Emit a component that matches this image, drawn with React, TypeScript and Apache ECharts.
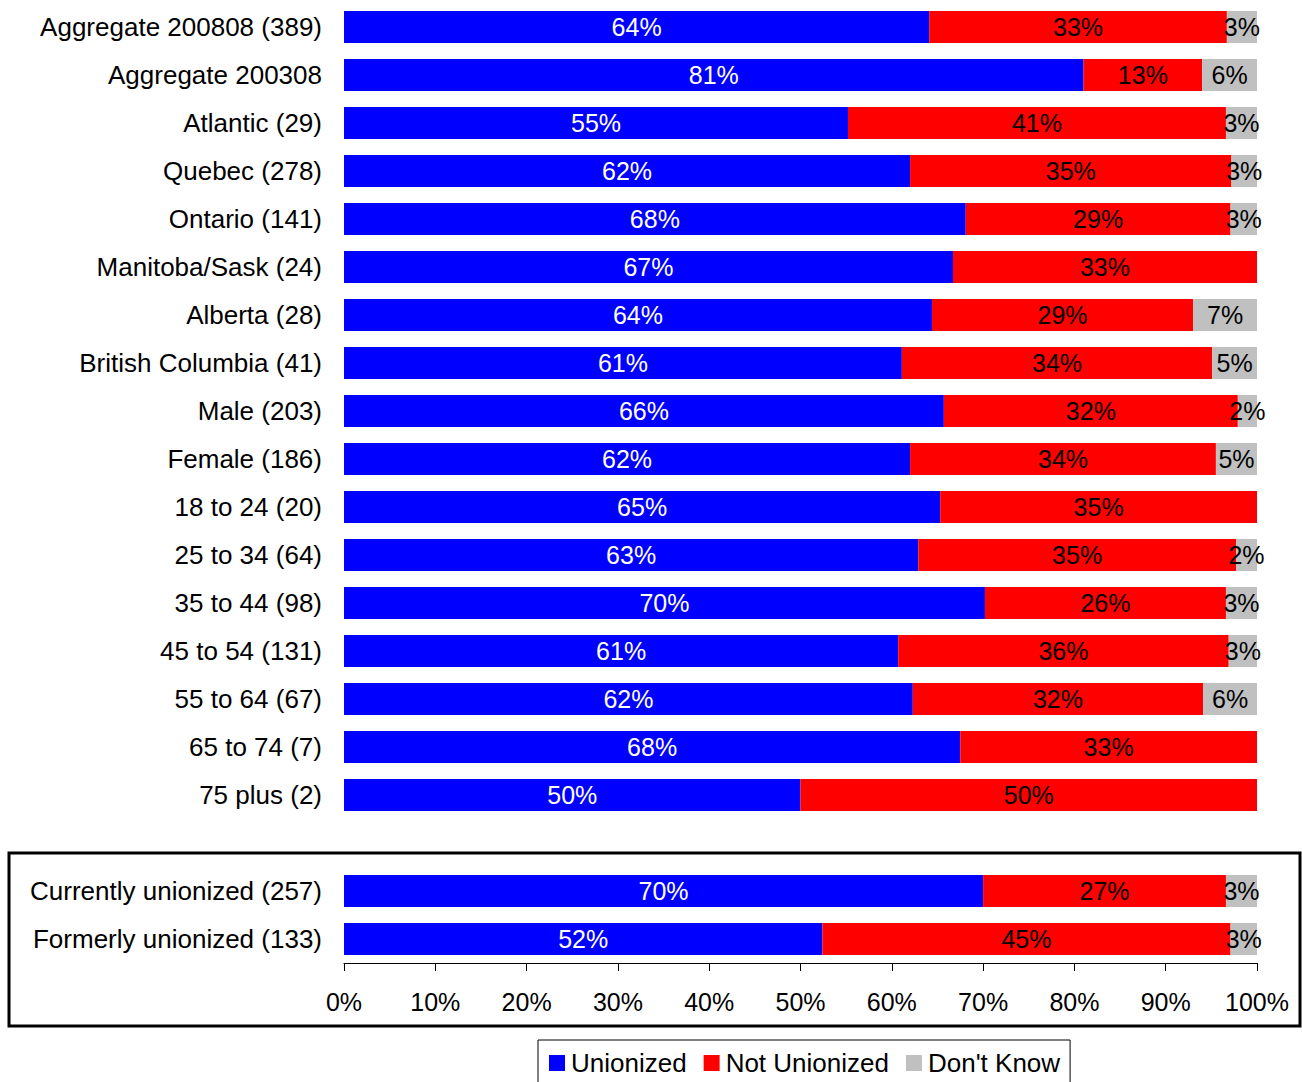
import React, { useEffect, useRef } from "react";
import * as echarts from "echarts";

const categories = [
  "Aggregate 200808 (389)",
  "Aggregate 200308",
  "Atlantic (29)",
  "Quebec (278)",
  "Ontario (141)",
  "Manitoba/Sask (24)",
  "Alberta (28)",
  "British Columbia (41)",
  "Male (203)",
  "Female (186)",
  "18 to 24 (20)",
  "25 to 34 (64)",
  "35 to 44 (98)",
  "45 to 54 (131)",
  "55 to 64 (67)",
  "65 to 74 (7)",
  "75 plus (2)",
  "",
  "Currently unionized (257)",
  "Formerly unionized (133)",
];

const unionized = [64.1, 81.0, 55.2, 62.0, 68.1, 66.7, 64.4, 61.1, 65.7, 62.0, 65.3, 62.9, 70.2, 60.7, 62.3, 67.5, 50.0, null, 70.0, 52.4];
const notUnionized = [32.6, 13.0, 41.4, 35.2, 29.0, 33.3, 28.6, 34.0, 32.2, 33.5, 34.7, 34.8, 26.4, 36.2, 31.8, 32.5, 50.0, null, 26.6, 44.7];
const dontKnow = [3.3, 6.0, 3.4, 2.8, 2.9, null, 7.0, 4.9, 2.1, 4.5, null, 2.3, 3.4, 3.1, 5.9, null, null, null, 3.4, 2.9];

const seriesNames = ["Unionized", "Not Unionized", "Don't Know"];
const FONT = "'Liberation Sans', Arial, sans-serif";

export default function App() {
  const ref = useRef<HTMLDivElement>(null);
  useEffect(() => {
    if (!ref.current) return;
    const chart = echarts.init(ref.current, undefined, { renderer: "svg" });
    const mk = (name: string, data: (number | null)[], color: string, labelColor: string) => ({
      name,
      type: "bar",
      stack: "total",
      data,
      barWidth: 32,
      itemStyle: { color },
      label: {
        show: true,
        position: "inside",
        color: labelColor,
        fontFamily: FONT,
        fontSize: 25,
        formatter: (p: any) => (p.value == null ? "" : Math.round(p.value) + "%"),
      },
    });
    chart.setOption({
      animation: false,
      textStyle: { fontFamily: FONT },
      grid: { left: 344, right: 45, top: 3, bottom: 119, containLabel: false },
      xAxis: {
        type: "value",
        min: 0,
        max: 100,
        interval: 10,
        axisLine: { show: true, lineStyle: { color: "#000", width: 1 } },
        axisTick: { show: true, length: 8, lineStyle: { color: "#000" } },
        splitLine: { show: false },
        axisLabel: { formatter: "{value}%", color: "#000", fontSize: 25, fontFamily: FONT, margin: 26 },
      },
      yAxis: {
        type: "category",
        inverse: true,
        data: categories,
        axisLine: { show: false },
        axisTick: { show: false },
        axisLabel: { color: "#000", fontSize: 26, fontFamily: FONT, margin: 22 },
      },
      legend: {
        data: seriesNames,
        left: 538,
        top: 1040,
        orient: "horizontal",
        borderColor: "#000",
        borderWidth: 1,
        padding: [10, 10, 10, 11],
        itemWidth: 16,
        itemHeight: 16,
        itemGap: 17,
        icon: "rect",
        textStyle: { color: "#000", fontSize: 26, fontFamily: FONT, padding: [0, 0, 0, 1] },
      },
      graphic: [
        {
          type: "rect",
          shape: { x: 9, y: 853, width: 1291, height: 173 },
          style: { fill: "none", stroke: "#000", lineWidth: 3 },
          z: 10,
        },
      ],
      series: [
        mk(seriesNames[0], unionized, "#0000FF", "#FFFFFF"),
        mk(seriesNames[1], notUnionized, "#FF0000", "#000000"),
        mk(seriesNames[2], dontKnow, "#C0C0C0", "#000000"),
      ],
    });
    return () => chart.dispose();
  }, []);
  return (
    <div
      ref={ref}
      style={{ position: "fixed", left: 0, top: 0, width: 1302, height: 1082, background: "#fff" }}
    />
  );
}
